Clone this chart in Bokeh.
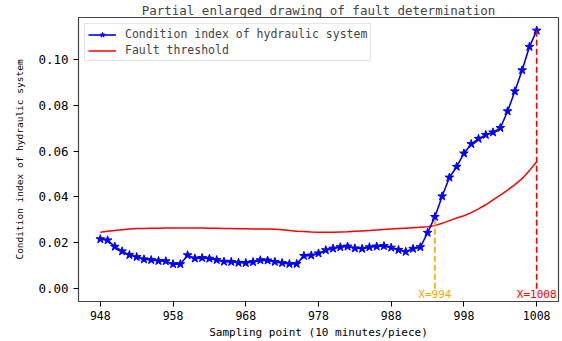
from bokeh.plotting import figure
from bokeh.models import (Legend, LegendItem, FixedTicker,
                          PrintfTickFormatter, Range1d)
from bokeh.core.properties import value
from bokeh.embed import file_html
from bokeh.resources import INLINE

# Sampling points (10 minutes per piece)
sample_points = list(range(948, 1009))

# Condition index of the hydraulic system at each sampling point
condition_index = [
    0.0216, 0.0211, 0.0183, 0.0163, 0.0147, 0.0138, 0.0128, 0.0125, 0.0121, 0.0120,
    0.0107, 0.0107, 0.0146, 0.0132, 0.0134, 0.0131, 0.0125, 0.0118, 0.0117, 0.0113,
    0.0112, 0.0116, 0.0124, 0.0123, 0.0117, 0.0112, 0.0108, 0.0108, 0.0143, 0.0145,
    0.0154, 0.0168, 0.0175, 0.0181, 0.0184, 0.0176, 0.0174, 0.0181, 0.0184, 0.0186,
    0.0179, 0.0169, 0.0161, 0.0174, 0.0181, 0.0244, 0.0313, 0.0403, 0.0485, 0.0532,
    0.0590, 0.0631, 0.0654, 0.0671, 0.0682, 0.0701, 0.0774, 0.0861, 0.0953, 0.1055,
    0.1126,
]

# Adaptive fault threshold
fault_threshold = [
    0.0246, 0.0250, 0.0254, 0.0257, 0.0260, 0.0262, 0.0263, 0.0264, 0.0264, 0.0265,
    0.0265, 0.0265, 0.0265, 0.0265, 0.0265, 0.0264, 0.0264, 0.0263, 0.0262, 0.0261,
    0.0261, 0.0260, 0.0260, 0.0260, 0.0259, 0.0257, 0.0254, 0.0251, 0.0249, 0.0247,
    0.0246, 0.0246, 0.0246, 0.0247, 0.0248, 0.0250, 0.0252, 0.0254, 0.0256, 0.0258,
    0.0260, 0.0262, 0.0264, 0.0266, 0.0268, 0.0270, 0.0275, 0.0285, 0.0297, 0.0308,
    0.0318, 0.0332, 0.0348, 0.0366, 0.0387, 0.0408, 0.0430, 0.0454, 0.0480, 0.0515,
    0.0554,
]

x_ticks = [948, 958, 968, 978, 988, 998, 1008]
y_ticks = [0.0, 0.02, 0.04, 0.06, 0.08, 0.10]

# Fault alarm point and end of the window
marked_points = [994, 1008]
marked_colors = ["#ffa500", "#ff0000"]
marked_labels = ["X=994", "X=1008"]

title_text = "Partial enlarged drawing of fault determination"
x_label = "Sampling point (10 minutes/piece)"
y_label = "Condition index of hydraulic system"

FONT = "DejaVu Sans Mono"

p = figure(width=562, height=341, output_backend="svg", toolbar_location=None,
           x_range=Range1d(945, 1011), y_range=Range1d(-0.0056, 0.1183),
           min_border_left=78, min_border_right=4, min_border_top=0,
           min_border_bottom=38)
p.background_fill_color = "white"
p.border_fill_color = "white"
p.outline_line_color = "#444444"
p.outline_line_width = 1.2
p.xgrid.visible = False
p.ygrid.visible = False

p.title.text = title_text
p.title.align = "center"
p.title.text_font = FONT
p.title.text_font_size = "12.5px"
p.title.text_font_style = "normal"
p.title.standoff = 0
p.title.offset = 0

for ax in (p.xaxis[0], p.yaxis[0]):
    ax.axis_line_color = None
    ax.major_tick_line_color = "black"
    ax.major_tick_out = 5
    ax.major_tick_in = 0
    ax.minor_tick_line_color = None
    ax.major_label_text_font = FONT
    ax.axis_label_text_font = FONT
    ax.axis_label_text_font_style = "normal"
    ax.major_label_text_color = "black"
    ax.axis_label_text_color = "black"

p.xaxis.ticker = FixedTicker(ticks=x_ticks)
p.xaxis.major_label_text_font_size = "11.5px"
p.xaxis.major_label_standoff = 4
p.xaxis.axis_label = x_label
p.xaxis.axis_label_text_font_size = "11px"
p.xaxis.axis_label_standoff = 3

p.yaxis.ticker = FixedTicker(ticks=y_ticks)
p.yaxis.formatter = PrintfTickFormatter(format="%.2f")
p.yaxis.major_label_text_font_size = "12.5px"
p.yaxis.major_label_standoff = 5
p.yaxis.axis_label = y_label
p.yaxis.axis_label_text_font_size = "9.5px"
p.yaxis.axis_label_standoff = 10

# Threshold and condition index
thr = p.line(sample_points, fault_threshold, line_color="#ff0000", line_width=1.5)
ci_line = p.line(sample_points, condition_index, line_color="#0000ff", line_width=1.6)
ci_star = p.scatter(sample_points, condition_index, marker="star", size=9,
                    fill_color="#0000ff", line_color="#0000ff")

# Vertical markers from zero up to the condition index
mark_tops = [condition_index[sample_points.index(m)] for m in marked_points]
p.segment(x0=marked_points, y0=[0, 0], x1=marked_points, y1=mark_tops,
          line_color=marked_colors, line_width=1.6, line_dash="6 3")
p.text(x=marked_points, y=[-0.0026, -0.0026], text=marked_labels,
       text_color=marked_colors, text_align="center", text_baseline="middle",
       text_font=value(FONT), text_font_size="11px")

legend = Legend(items=[
    LegendItem(label=y_label, renderers=[ci_line, ci_star]),
    LegendItem(label="Fault threshold", renderers=[thr]),
], location="top_left")
legend.label_text_font = FONT
legend.label_text_font_size = "11.5px"
legend.glyph_width = 28
legend.glyph_height = 13
legend.label_height = 13
legend.label_standoff = 9
legend.spacing = 2
legend.padding = 3
legend.margin = 6
legend.border_line_color = "#cccccc"
legend.border_line_width = 1
legend.background_fill_color = "white"
legend.background_fill_alpha = 0.8
p.add_layout(legend)

open("out.html", "w").write(file_html(p, INLINE))
